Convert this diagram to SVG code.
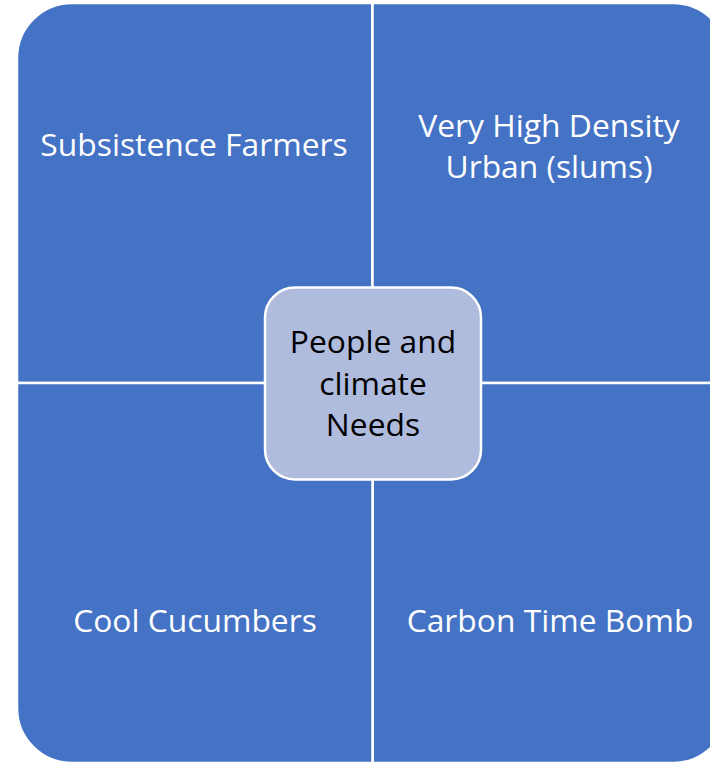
<svg xmlns="http://www.w3.org/2000/svg" width="710" height="762" viewBox="0 0 710 762">
<style>
.q{fill:#4472C4;stroke:#FFFFFF;stroke-width:2.5}
.c{fill:#B0BCDE;stroke:#FFFFFF;stroke-width:2.5}
.t{font-family:"Open Sans","Liberation Sans",sans-serif;font-size:31.8px;text-anchor:middle}
.w{fill:#FFFFFF}
.k{fill:#000000}
</style>
<rect width="710" height="762" fill="#FFFFFF"/>
<g id="subsistence-farmers">
<path class="q" d="M17,383 V58 A55,55 0 0 1 72,3 H372.5 V383 Z"/>
<text class="t w" x="194" y="156">Subsistence Farmers</text>
</g>
<g id="very-high-density-urban">
<path class="q" d="M372.5,3 H673 A55,55 0 0 1 728,58 V383 H372.5 Z"/>
<text class="t w" x="549" y="137">Very High Density</text>
<text class="t w" x="549" y="178">Urban (slums)</text>
</g>
<g id="carbon-time-bomb">
<path class="q" d="M372.5,383 H728 V708 A55,55 0 0 1 673,763 H372.5 Z"/>
<text class="t w" x="550" y="632">Carbon Time Bomb</text>
</g>
<g id="cool-cucumbers">
<path class="q" d="M17,383 H372.5 V763 H72 A55,55 0 0 1 17,708 Z"/>
<text class="t w" x="195" y="632">Cool Cucumbers</text>
</g>
<g id="connectors"></g>
<g id="people-and-climate-needs">
<rect class="c" x="265" y="287.5" width="216" height="192" rx="30" ry="30"/>
<text class="t k" x="373" y="353">People and</text>
<text class="t k" x="373" y="395">climate</text>
<text class="t k" x="373" y="436">Needs</text>
</g>
</svg>
